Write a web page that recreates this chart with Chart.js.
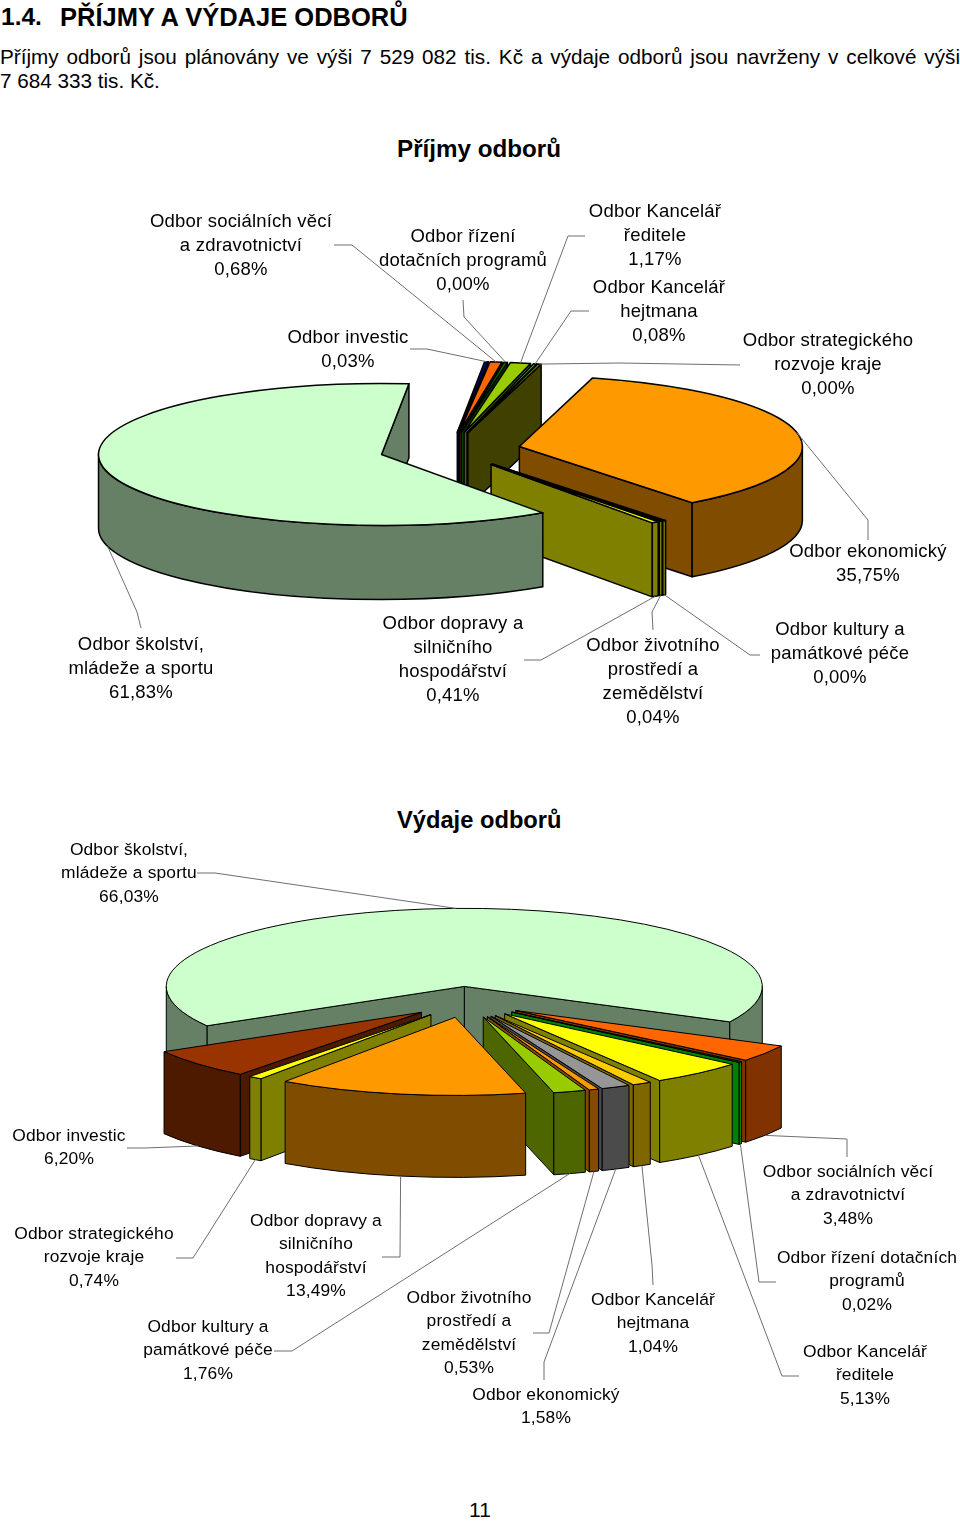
<!DOCTYPE html>
<html lang="cs">
<head>
<meta charset="utf-8">
<title>Příjmy a výdaje odborů</title>
<script src="https://cdn.jsdelivr.net/npm/chart.js@4"></script>
<style>
html, body { margin: 0; background: #fff; }
#page { position: relative; width: 960px; height: 1521px; overflow: hidden; font-family: "Liberation Sans", Arial, sans-serif; color: #000; }
#page canvas { position: absolute; left: 0; top: 0; }
.abs { position: absolute; white-space: nowrap; }
.heading { font-size: 25.5px; font-weight: bold; top: 2px; line-height: 30px; }
.para { left: 0; width: 960px; font-size: 20.7px; line-height: 25px; white-space: normal; }
.para.first { top: 44px; text-align: justify; text-align-last: justify; }
.para.second { top: 68px; }
.title { font-size: 24.2px; font-weight: bold; line-height: 30px; }
.label { font-size: 18.5px; letter-spacing: 0.2px; line-height: 23.9px; text-align: center; transform: translateX(-50%); }
.label.small { font-size: 17.4px; letter-spacing: 0.15px; line-height: 23.4px; }
.pageno { left: 480px; top: 1497px; font-size: 21px; line-height: 26px; transform: translateX(-50%); }
</style>
</head>
<body>
<div id="page">
  <div class="abs heading" style="left:1px;font-size:24.5px">1.4.</div>
  <div class="abs heading" style="left:60px">PŘÍJMY A VÝDAJE ODBORŮ</div>
  <div class="abs para first">Příjmy odborů jsou plánovány ve výši 7 529 082 tis. Kč a výdaje odborů jsou navrženy v celkové výši</div>
  <div class="abs para second">7 684 333 tis. Kč.</div>
  <div class="abs title" style="left:397px;top:134px">Příjmy odborů</div>
  <div class="abs title" style="left:397px;top:805px;font-size:23.7px">Výdaje odborů</div>
  <div class="abs pageno">11</div>
  <canvas id="incomeChart" width="960" height="1521"></canvas>
  <canvas id="expenseChart" width="960" height="1521"></canvas>
</div>
<script>
// prijmy - poradi po smeru hodin od horni hrany oranzove vysece
const incomeNames = ["Odbor ekonomický", "Odbor kultury a\npamátkové péče", "Odbor životního\nprostředí a\nzemědělství", "Odbor dopravy a\nsilničního\nhospodářství", "Odbor školství,\nmládeže a sportu", "Odbor investic", "Odbor sociálních věcí\na zdravotnictví", "Odbor řízení\ndotačních programů", "Odbor Kancelář\nředitele", "Odbor Kancelář\nhejtmana", "Odbor strategického\nrozvoje kraje"];
const incomeShares = [35.75, 0.00, 0.04, 0.41, 61.83, 0.03, 0.68, 0.00, 1.17, 0.08, 0.00];
const incomeTops = ["#FF9900", "#333300", "#003300", "#FFFF00", "#CCFFCC", "#000080", "#FF6600", "#008000", "#99CC00", "#339966", "#808000"];
const incomeSides = ["#804D00", "#808000", "#808000", "#808000", "#668066", "#000040", "#803300", "#004000", "#4D6600", "#1A4D33", "#404000"];
const incomeLabelX = [868, 840, 653, 453, 141, 348, 241, 463, 655, 659, 828];
const incomeLabelY = [539, 617, 633, 611, 632, 325, 209, 224, 199, 275, 328];
const incomeLeaders = [
  [[868, 540], [868, 520]], [[760, 655], [750, 655]], [[653, 630], [652, 612]], [[524, 660], [541, 660]],
  [[141, 628], [137, 612]], [[410, 349], [427, 349]], [[334, 245], [352, 245]], [[463, 300], [464, 317]],
  [[585, 236], [568, 236]], [[589, 311], [571, 311]], [[740, 365], [620, 363]]
];

// vydaje - poradi po smeru hodin od prave hrany svetle zelene vysece
const expenseNames = ["Odbor sociálních věcí\na zdravotnictví", "Odbor řízení dotačních\nprogramů", "Odbor Kancelář\nředitele", "Odbor Kancelář\nhejtmana", "Odbor ekonomický", "Odbor životního\nprostředí a\nzemědělství", "Odbor kultury a\npamátkové péče", "Odbor dopravy a\nsilničního\nhospodářství", "Odbor strategického\nrozvoje kraje", "Odbor investic", "Odbor školství,\nmládeže a sportu"];
const expenseShares = [3.48, 0.02, 5.13, 1.04, 1.58, 0.53, 1.76, 13.49, 0.74, 6.20, 66.03];
const expenseTops = ["#FF6600", "#006600", "#FFFF00", "#FFCC00", "#969696", "#FF9900", "#99CC00", "#FF9900", "#FFFF00", "#993300", "#CCFFCC"];
const expenseSides = ["#803300", "#008000", "#808000", "#806600", "#4B4B4B", "#804D00", "#4D6600", "#804D00", "#808000", "#4D1A00", "#668066"];
const expenseLabelX = [848, 867, 865, 653, 546, 469, 208, 316, 94, 69, 129];
const expenseLabelY = [1160, 1246, 1340, 1288, 1383, 1286, 1315, 1209, 1222, 1124, 838];
const expenseLeaders = [
  [[847, 1157], [847, 1139]], [[776, 1282], [759, 1282]], [[799, 1376], [782, 1376]], [[653, 1285], [652, 1265]],
  [[544, 1380], [544, 1362]], [[533, 1333], [549, 1333]], [[274, 1351], [292, 1351]], [[382, 1257], [400, 1257]],
  [[176, 1258], [193, 1258]], [[127, 1148], [145, 1148]], [[197, 873], [215, 873]]
];

// nejuzsi vysece by jinak nebyly videt (v originale maji taky sirku i s 0,00 %)
const minShare = 0.2;

function fmtShare(v) {
  return v.toFixed(2).replace(".", ",") + "%";
}

const pie3d = {
  id: "pie3d",
  beforeDatasetsDraw(chart, args, opts) {
    const ctx = chart.ctx;
    const ds = chart.data.datasets[0];
    const k = opts.squash, depth = opts.depth;

    const slices = chart.getDatasetMeta(0).data.map((arc, i) => {
      const p = arc.getProps(["x", "y", "startAngle", "endAngle", "outerRadius"]);
      const shift = arc.options.offset / 4;
      const mid = (p.startAngle + p.endAngle) / 2;
      const ax = p.x + Math.cos(mid) * shift;
      const ay = p.y + Math.sin(mid) * shift * k;
      const r = p.outerRadius;
      let maxY = Math.max(ay + Math.sin(p.startAngle) * r * k, ay + Math.sin(p.endAngle) * r * k, ay);
      for (let n = -1; n < 3; n++) {
        const bottom = Math.PI / 2 + n * 2 * Math.PI;
        if (bottom > p.startAngle && bottom < p.endAngle) maxY = ay + r * k;
      }
      return { i, ax, ay, r, mid, s: p.startAngle, e: p.endAngle, maxY };
    });

    const rim = (sl, a, dy) => [sl.ax + Math.cos(a) * sl.r, sl.ay + Math.sin(a) * sl.r * k + (dy || 0)];

    function paint(fill) {
      ctx.fillStyle = fill;
      ctx.fill();
      ctx.stroke();
    }

    function wall(sl, a, color) {
      const [x, y] = rim(sl, a);
      ctx.beginPath();
      ctx.moveTo(sl.ax, sl.ay);
      ctx.lineTo(x, y);
      ctx.lineTo(x, y + depth);
      ctx.lineTo(sl.ax, sl.ay + depth);
      ctx.closePath();
      paint(color);
    }

    ctx.save();
    ctx.strokeStyle = "#000";
    ctx.lineWidth = opts.lineWidth;
    ctx.lineJoin = "round";

    slices.slice().sort((a, b) => a.maxY - b.maxY).forEach(sl => {
      const side = ds.sideColors[sl.i];
      if (Math.cos(sl.e) > 0) wall(sl, sl.e, side);
      if (-Math.cos(sl.s) > 0) wall(sl, sl.s, side);
      // vnejsi plast - jen cast otocena k divakovi
      for (let n = -1; n < 3; n++) {
        const from = Math.max(sl.s, n * 2 * Math.PI);
        const to = Math.min(sl.e, Math.PI + n * 2 * Math.PI);
        if (to <= from) continue;
        ctx.beginPath();
        ctx.ellipse(sl.ax, sl.ay, sl.r, sl.r * k, 0, from, to);
        ctx.ellipse(sl.ax, sl.ay + depth, sl.r, sl.r * k, 0, to, from, true);
        ctx.closePath();
        paint(side);
      }
      ctx.beginPath();
      ctx.moveTo(sl.ax, sl.ay);
      ctx.ellipse(sl.ax, sl.ay, sl.r, sl.r * k, 0, sl.s, sl.e);
      ctx.closePath();
      paint(ds.backgroundColor[sl.i]);
    });

    // odkazove cary k popiskum
    ctx.strokeStyle = "#6e6e6e";
    ctx.lineWidth = 1;
    slices.forEach(sl => {
      const pts = ds.leaders[sl.i];
      const end = rim(sl, sl.mid, Math.sin(sl.mid) > 0 ? depth : 0);
      ctx.beginPath();
      ctx.moveTo(pts[0][0], pts[0][1]);
      ctx.lineTo(pts[1][0], pts[1][1]);
      ctx.lineTo(end[0], end[1]);
      ctx.stroke();
    });
    ctx.restore();
    return false;
  }
};

function makePie(id, cfg) {
  new Chart(document.getElementById(id), {
    type: "pie",
    plugins: [pie3d],
    data: {
      labels: cfg.names,
      datasets: [{
        data: cfg.shares.map(v => Math.max(v, minShare)),
        backgroundColor: cfg.tops,
        sideColors: cfg.sides,
        leaders: cfg.leaders,
        offset: cfg.offset,
        borderWidth: 0
      }]
    },
    options: {
      responsive: false,
      animation: false,
      events: [],
      rotation: cfg.rotation,
      radius: cfg.radius,
      layout: { padding: cfg.padding },
      plugins: {
        legend: { display: false },
        tooltip: { enabled: false },
        pie3d: { squash: cfg.squash, depth: cfg.depth, lineWidth: cfg.lineWidth }
      }
    }
  });

  cfg.names.forEach((name, i) => {
    const box = document.createElement("div");
    box.className = "abs label " + cfg.labelClass;
    box.style.left = cfg.labelX[i] + "px";
    box.style.top = cfg.labelY[i] + "px";
    box.innerText = name + "\n" + fmtShare(cfg.shares[i]);
    document.getElementById("page").appendChild(box);
  });
}

makePie("incomeChart", {
  names: incomeNames, shares: incomeShares, tops: incomeTops, sides: incomeSides,
  labelX: incomeLabelX, labelY: incomeLabelY, leaders: incomeLeaders, labelClass: "",
  rotation: 15, radius: 283, offset: 283, squash: 0.251, depth: 74, lineWidth: 1.5,
  padding: { left: 0, right: 60, top: 0, bottom: 621 }
});

makePie("expenseChart", {
  names: expenseNames, shares: expenseShares, tops: expenseTops, sides: expenseSides,
  labelX: expenseLabelX, labelY: expenseLabelY, leaders: expenseLeaders, labelClass: "small",
  rotation: 117, radius: 298, offset: 238, squash: 0.262, depth: 82, lineWidth: 1,
  padding: { left: 0, right: 28, top: 483, bottom: 0 }
});
</script>
</body>
</html>
